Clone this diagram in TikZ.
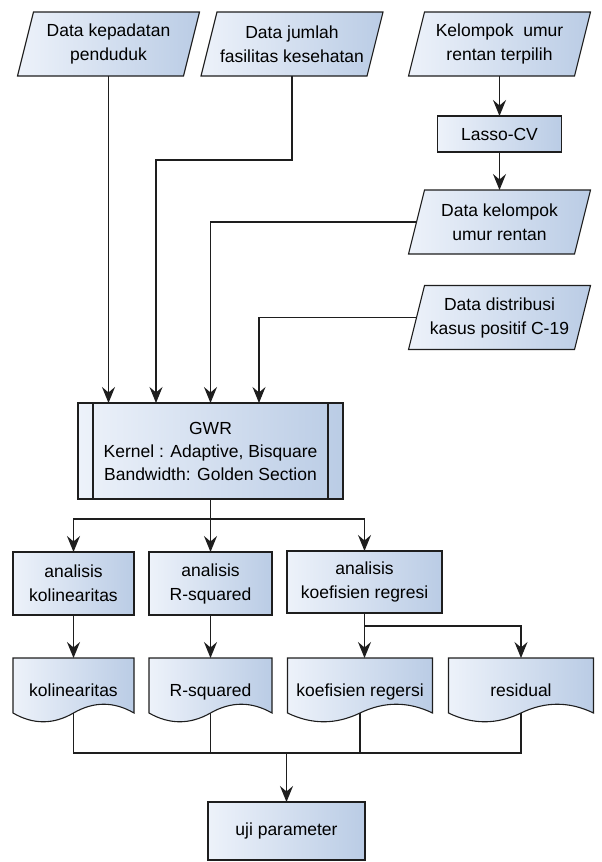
\documentclass[tikz,border=0pt]{standalone}
\usepackage{fontspec}
\setmainfont{Liberation Sans}
\usepackage{tikz}
\usetikzlibrary{arrows.meta, calc}
\tikzstyle{page} = [x = 1pt, y = -1pt]
\definecolor{lineColor}{RGB}{30,30,30}
\definecolor{fillLight}{RGB}{237,242,250}
\definecolor{fillDark}{RGB}{186,204,229}
\tikzstyle{shapeFill} = [draw=lineColor, line width=1.1pt, left color=fillLight, right color=fillDark]
\tikzstyle{boxText} = [font=\fontsize{17.5}{24}\selectfont, align=center, inner sep=0pt, outer sep=0pt]
\tikzstyle{processBox} = [shapeFill, boxText, rectangle]
\tikzstyle{flowLine} = [draw=lineColor, line width=1.1pt]
\tikzstyle{flowArrow} = [flowLine, -{Stealth[length=16pt, width=13pt, inset=5.5pt]}]
\newcommand{\slant}{8}
\newcommand{\waveDepth}{11.7}
\newcommand{\dataNode}[5]{\shade [shapeFill] (#2 - #4/2 - \slant, #3 + 32) -- (#2 + #4/2 - \slant, #3 + 32) -- (#2 + #4/2 + \slant, #3 - 32) -- (#2 - #4/2 + \slant, #3 - 32) -- cycle;
  \node [boxText, minimum width=#4pt, minimum height=64pt] (#1) at (#2, #3) {#5};}
\newcommand{\docNode}[5]{\shade [shapeFill] (#2 - #4/2, #3) -- (#2 + #4/2, #3) -- (#2 + #4/2, #3 + 55) .. controls (#2 + #4/3, #3 + 55 - \waveDepth) and (#2 + #4/6, #3 + 55 - \waveDepth) .. (#2, #3 + 55) .. controls (#2 - #4/6, #3 + 55 + \waveDepth) and (#2 - #4/3, #3 + 55 + \waveDepth) .. (#2 - #4/2, #3 + 55) -- cycle;
  \node [boxText, minimum width=#4pt, minimum height=55pt, text height=26pt, text depth=4pt] (#1) at (#2, #3 + 27.5) {#5};}
\begin{document}
\begin{tikzpicture}[page]
  \useasboundingbox (0, 0) rectangle (602, 862);
  \dataNode{kepadatan}{108.5}{44}{166}{Data kepadatan\\penduduk}
  \dataNode{jumlah}{292}{44}{166}{Data jumlah\\fasilitas kesehatan}
  \dataNode{terpilih}{499.5}{44}{166}{Kelompok\ \ umur\\rentan terpilih}
  \node [processBox, minimum width=124pt, minimum height=36pt] (lasso) at (499.5, 134) {Lasso-CV};
  \dataNode{kelompok}{499.5}{222}{166}{Data kelompok\\umur rentan}
  \dataNode{distribusi}{499.5}{317.5}{166}{Data distribusi\\kasus positif C-19}

  \node [processBox, minimum width=265pt, minimum height=96pt, font=\fontsize{17.5}{23}\selectfont] (gwr) at (210.5, 451) {GWR\\Kernel : Adaptive, Bisquare\\Bandwidth: Golden Section};
  \draw [flowLine] ($(gwr.north west) + (15, 0)$) -- ($(gwr.south west) + (15, 0)$);
  \draw [flowLine] ($(gwr.north east) + (-15, 0)$) -- ($(gwr.south east) + (-15, 0)$);

  \node [processBox, minimum width=121pt, minimum height=63pt] (anKol) at (73.5, 583.5) {analisis\\kolinearitas};
  \node [processBox, minimum width=123pt, minimum height=63pt] (anRsq) at (210.5, 583.5) {analisis\\R-squared};
  \node [processBox, minimum width=155pt, minimum height=62pt] (anKoef) at (364.5, 582) {analisis\\koefisien regresi};

  \docNode{docKol}{73.5}{658}{121}{kolinearitas}
  \docNode{docRsq}{210.5}{658}{123}{R-squared}
  \docNode{docKoef}{360}{658}{145}{koefisien regersi}
  \docNode{docRes}{521}{658}{145}{residual}

  \node [processBox, minimum width=157pt, minimum height=58pt] (uji) at (286.5, 831) {uji parameter};

  \draw [flowArrow] (kepadatan.south) -- (kepadatan.south |- gwr.north);
  \draw [flowArrow] (jumlah.south) -- ++(0, 84) -| ($(gwr.north west) + (78, 0)$);
  \draw [flowArrow] (terpilih.south) -- (lasso.north);
  \draw [flowArrow] (lasso.south) -- (kelompok.north);
  \draw [flowArrow] (kelompok.west) -| (gwr.north);
  \draw [flowArrow] (distribusi.west) -| ($(gwr.north) + (48.5, 0)$);
  \draw [flowArrow] (gwr.south) -- ++(0, 20) -| (anKol.north);
  \draw [flowArrow] (gwr.south) -- (anRsq.north);
  \draw [flowArrow] (gwr.south) -- ++(0, 20) -| (anKoef.north);
  \draw [flowArrow] (anKol.south) -- (docKol.north);
  \draw [flowArrow] (anRsq.south) -- (docRsq.north);
  \draw [flowArrow] (anKoef.south) -- (anKoef.south |- docKoef.north);
  \draw [flowArrow] (anKoef.south) -- ++(0, 13) -| (docRes.north);
  \coordinate (merge) at ($(uji.north) + (0, -49)$);
  \foreach \doc in {docKol, docRsq, docKoef, docRes} {
    \draw [flowLine] (\doc.south) |- (merge);
  }
  \draw [flowArrow] (merge) -- (uji.north);
\end{tikzpicture}
\end{document}
